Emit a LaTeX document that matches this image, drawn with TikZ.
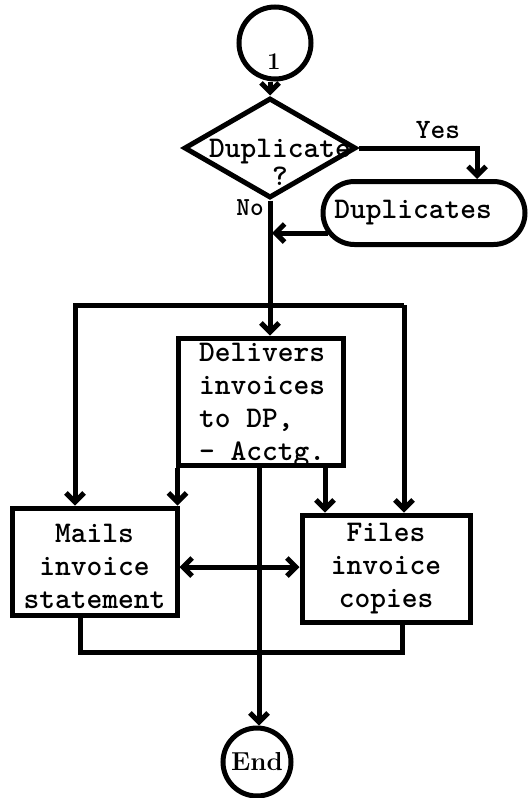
\documentclass[tikz,border=0pt]{standalone}
\usepackage{fontspec}
\usetikzlibrary{shapes.geometric,shapes.misc,arrows.meta,calc}
\begin{document}
\begin{tikzpicture}[x=1pt,y=1pt,
  line width=5pt,
  tw/.style={font=\ttfamily\bfseries\fontsize{30}{33}\selectfont, align=center},
  boxstyle/.style={draw, rectangle, inner sep=0pt},
  arr/.style={-{Straight Barb[length=9pt,width=18pt]}},
  darr/.style={{Straight Barb[length=9pt,width=18pt]}-{Straight Barb[length=9pt,width=18pt]}},
  ]
\fill[white] (0,0) rectangle (528,-798);
\useasboundingbox (0,0) rectangle (528,-798);

% nodes
\node[circle, draw, minimum size=72pt, inner sep=0pt] (start) at (275,-43) {};
\node[font=\rmfamily\bfseries\fontsize{24}{24}\selectfont, inner sep=0pt] (one) at (274,-62) {1};
\node[diamond, draw, minimum width=172pt, minimum height=100pt, inner sep=0pt] (dec) at (270,-148) {};
\node[tw, font=\ttfamily\bfseries\fontsize{30}{28}\selectfont, inner sep=0pt] (dectext) at (280,-162) {Duplicate\\?};
\node[rounded rectangle, draw, minimum width=202pt, minimum height=63pt, inner sep=0pt, tw] (dup) at (424,-213) {Duplicates\hspace*{22pt}};
\node[boxstyle, minimum width=165pt, minimum height=127pt] (del) at (260.5,-401.5) {};
\node[tw, align=left, inner sep=0pt] (deltext) at (262,-405) {Delivers\\invoices\\to DP,\\- Acctg.};
\node[boxstyle, minimum width=165pt, minimum height=107pt] (mails) at (94.5,-561.5) {};
\node[tw, inner sep=0pt] (mailstext) at (94.5,-566) {Mails\\invoice\\statement};
\node[boxstyle, tw, minimum width=168pt, minimum height=107pt] (files) at (386,-568.5) {Files\\invoice\\copies};
\node[circle, draw, minimum size=68pt, inner sep=0pt, font=\rmfamily\bfseries\fontsize{26}{26}\selectfont] (end) at (257,-762) {End};

\node[font=\ttfamily\bfseries\fontsize{28}{28}\selectfont, inner sep=0pt] (yes) at (438,-130) {Yes};
\node[font=\ttfamily\bfseries\fontsize{26}{26}\selectfont, inner sep=0pt] (no) at (250,-208) {No};

% coordinates
\coordinate (dupout) at ($(dup.west)+(7,-20)$);
\coordinate (yesin) at ($(dup.north)+(53,0)$);
\coordinate (dl) at (75,-305);
\coordinate (dr) at (404,-305);
\coordinate (dsw) at ($(del.south west)+(2,0)$);
\coordinate (dse) at (325,-465);
\coordinate (dy) at (0,-567);
\coordinate (xc) at (259,0);
\coordinate (xb1) at (80,0);
\coordinate (xb2) at (402,0);
\coordinate (yb) at (0,-652);

% connectors
\draw[arr] (dec.north |- start.south) -- (dec.north);
\draw[arr] (dec.east) -| (yesin);
\draw[arr] (dec.south) -- (dec.south |- del.north);
\draw[arr, shorten >=2pt] (dupout) -- (dupout -| dec.south);
\draw[arr] (dr) -- (dl) -- (dl |- mails.north);
\draw[arr] (dr) -- (dr |- files.north);
\draw[arr] (dsw) -- (dsw |- mails.north);
\draw[arr] (dse) -- (dse |- files.north);
\draw[darr] (mails.east |- dy) -- (files.west |- dy);
\draw[arr] (xc |- del.south) -- (xc |- end.north);
\draw (mails.south -| xb1) -- (yb -| xb1) -- (yb -| xb2) -- (files.south -| xb2);
\end{tikzpicture}
\end{document}
